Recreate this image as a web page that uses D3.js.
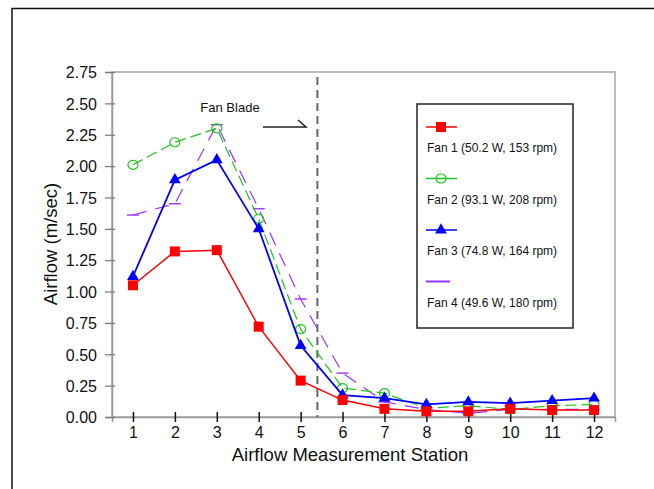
<!DOCTYPE html>
<html lang="en">
<head>
    <meta charset="UTF-8">
    <title>Airflow by Measurement Station</title>
    <style>
        body { margin: 0; background: #fff; }
        svg { display: block; font-family: 'Liberation Sans', Arial, sans-serif; }
        .tick text { font-size: 16px; fill: #111; }
        .axis-label { font-size: 18.5px; fill: #111; }
        .legend-text { font-size: 12px; fill: #111; }
    </style>
</head>
<body>
    <svg id="chart" width="654" height="489"></svg>

    <script src="https://d3js.org/d3.v7.min.js"></script>
    <script>
        // Data
        const stations = [1, 2, 3, 4, 5, 6, 7, 8, 9, 10, 11, 12];
        const fan1 = [1.05, 1.32, 1.33, 0.72, 0.29, 0.135, 0.065, 0.045, 0.045, 0.065, 0.055, 0.055];
        const fan2 = [2.01, 2.19, 2.30, 1.58, 0.70, 0.23, 0.19, 0.07, 0.09, 0.06, 0.09, 0.10];
        const fan3 = [1.12, 1.89, 2.05, 1.50, 0.57, 0.175, 0.15, 0.10, 0.12, 0.11, 0.13, 0.15];
        const fan4 = [1.61, 1.70, 2.33, 1.66, 0.94, 0.35, 0.12, 0.06, 0.03, 0.06, 0.06, 0.06];
        const seriesNames = ["Fan 1 (50.2 W, 153 rpm)", "Fan 2 (93.1 W, 208 rpm)",
                             "Fan 3 (74.8 W, 164 rpm)", "Fan 4 (49.6 W, 180 rpm)"];
        const yTicks = [0, 0.25, 0.5, 0.75, 1, 1.25, 1.5, 1.75, 2, 2.25, 2.5, 2.75];
        const bladeStation = 5.4;

        const svg = d3.select("#chart");

        // plot area
        const plot = { left: 112, right: 615, top: 72, bottom: 417 };
        const x = d3.scaleLinear().domain([0.5, 12.5]).range([plot.left, plot.right]);
        const y = d3.scaleLinear().domain([0, 2.75]).range([plot.bottom, plot.top]);

        // outer frame (only top and left edges show)
        svg.append("path")
            .attr("d", "M12,489 V8.5 H654")
            .attr("fill", "none")
            .attr("stroke", "#111")
            .attr("stroke-width", 1.5);

        // plot frame
        svg.append("rect")
            .attr("x", plot.left).attr("y", plot.top)
            .attr("width", plot.right - plot.left).attr("height", plot.bottom - plot.top)
            .attr("fill", "none")
            .attr("stroke", "#a8a8a8")
            .attr("stroke-width", 1.5);

        // axes
        const xAxis = svg.append("g")
            .attr("transform", "translate(0," + plot.bottom + ")")
            .call(d3.axisBottom(x).tickValues(stations).tickSize(5).tickPadding(5).tickFormat(d3.format("d")));
        xAxis.select(".domain").attr("stroke", "#999").attr("stroke-width", 1.5);
        xAxis.selectAll(".tick line").attr("y1", -5).attr("stroke", "#111").attr("stroke-width", 1.5);

        const yAxis = svg.append("g")
            .attr("transform", "translate(" + plot.left + ",0)")
            .call(d3.axisLeft(y).tickValues(yTicks).tickSize(7).tickPadding(8).tickFormat(d3.format(".2f")));
        yAxis.select(".domain").attr("stroke", "#999").attr("stroke-width", 1.5);
        yAxis.selectAll(".tick line").attr("x1", 3).attr("stroke", "#777").attr("stroke-width", 1.2);
        yAxis.selectAll(".tick text").attr("dy", "0.36em");

        // axis titles
        svg.append("text")
            .attr("class", "axis-label")
            .attr("text-anchor", "middle")
            .attr("x", 350).attr("y", 461)
            .text("Airflow Measurement Station");

        svg.append("text")
            .attr("class", "axis-label")
            .attr("text-anchor", "middle")
            .attr("transform", "translate(57,244) rotate(-90)")
            .text("Airflow (m/sec)");

        // fan blade marker
        svg.append("line")
            .attr("x1", x(bladeStation)).attr("x2", x(bladeStation))
            .attr("y1", 77).attr("y2", plot.bottom)
            .attr("stroke", "#666")
            .attr("stroke-width", 2)
            .attr("stroke-dasharray", "8,5");

        svg.append("text")
            .attr("x", 230).attr("y", 112)
            .attr("text-anchor", "middle")
            .style("font-size", "13px")
            .attr("fill", "#111")
            .text("Fan Blade");

        svg.append("path")
            .attr("d", "M263,127 H306 L298,120")
            .attr("fill", "none")
            .attr("stroke", "#222")
            .attr("stroke-width", 1.5);

        // series
        const series = [
            { values: fan1, color: "#ff0000", dash: null, width: 1.5, marker: "square" },
            { values: fan2, color: "#22c322", dash: "11,5", width: 1.2, marker: "circle" },
            { values: fan3, color: "#0000ff", dash: null, width: 1.8, marker: "triangle" },
            { values: fan4, color: "#9933ff", dash: "14,9", width: 1.2, marker: "dash" }
        ];

        const line = d3.line().x((d, i) => x(stations[i])).y(d => y(d));

        function drawMarker(g, kind, color) {
            if (kind === "square") {
                g.append("rect").attr("x", -5).attr("y", -5).attr("width", 10).attr("height", 10).attr("fill", color);
            } else if (kind === "circle") {
                g.append("ellipse").attr("rx", 5).attr("ry", 4.5).attr("fill", "none")
                    .attr("stroke", color).attr("stroke-width", 1.2);
            } else if (kind === "triangle") {
                g.append("path").attr("d", d3.symbol(d3.symbolTriangle, 60)()).attr("fill", color);
            } else {
                g.append("line").attr("x1", -6).attr("x2", 6).attr("stroke", color).attr("stroke-width", 1.4);
            }
        }

        // draw order: purple, green, blue, red on top
        [3, 1, 2, 0].forEach(k => {
            const s = series[k];
            svg.append("path")
                .datum(s.values)
                .attr("d", line)
                .attr("fill", "none")
                .attr("stroke", s.color)
                .attr("stroke-width", s.width)
                .attr("stroke-dasharray", s.dash);
            s.values.forEach((v, i) => {
                const g = svg.append("g").attr("transform", "translate(" + x(stations[i]) + "," + y(v) + ")");
                drawMarker(g, s.marker, s.color);
            });
        });

        // legend
        svg.append("rect")
            .attr("x", 417).attr("y", 104)
            .attr("width", 156).attr("height", 224)
            .attr("fill", "#fff")
            .attr("stroke", "#222")
            .attr("stroke-width", 1.5);

        series.forEach((s, k) => {
            const sy = 127 + k * 51.5;
            const lineEnd = s.marker === "dash" ? 450 : 457;
            svg.append("line")
                .attr("x1", 426).attr("x2", lineEnd)
                .attr("y1", sy).attr("y2", sy)
                .attr("stroke", s.color)
                .attr("stroke-width", s.marker === "dash" ? 2 : 1.5);
            if (s.marker !== "dash") {
                const g = svg.append("g").attr("transform", "translate(441," + sy + ")");
                drawMarker(g, s.marker, s.color);
            }
            svg.append("text")
                .attr("class", "legend-text")
                .attr("x", 427).attr("y", sy + 25)
                .text(seriesNames[k]);
        });
    </script>
</body>
</html>
